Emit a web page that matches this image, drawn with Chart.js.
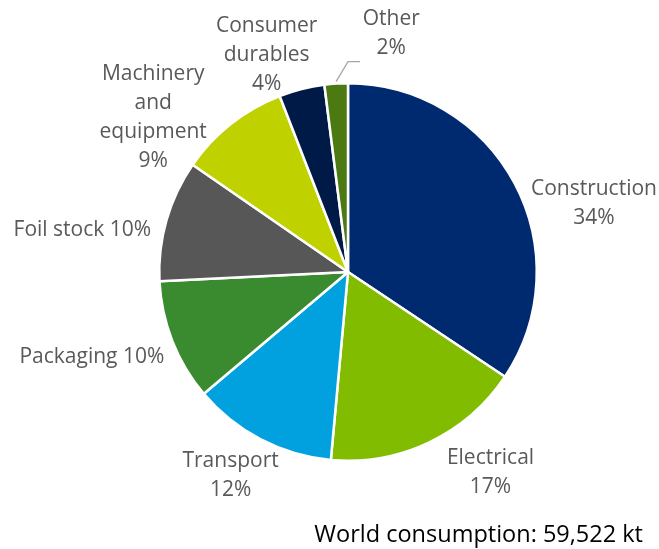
<!DOCTYPE html>
<html>
<head>
<meta charset="utf-8">
<script src="https://cdn.jsdelivr.net/npm/chart.js@4"></script>
<style>
  html, body { margin: 0; padding: 0; background: #fff; }
  #wrap { width: 659px; height: 549px; position: relative; }
</style>
</head>
<body>
<div id="wrap"><canvas id="pieChart" width="659" height="549"></canvas></div>
<script>
// segments, clockwise from 12 o'clock
const sectors = ["Construction", "Electrical", "Transport", "Packaging", "Foil stock", "Machinery and equipment", "Consumer durables", "Other"];
const shares = [34.4, 17.1, 12.4, 10.4, 10.4, 9.5, 3.9, 2.0];
const shareLabels = ["34%", "17%", "12%", "10%", "10%", "9%", "4%", "2%"];
const labelLines = [
  ["Construction", "34%"],
  ["Electrical", "17%"],
  ["Transport", "12%"],
  ["Packaging 10%"],
  ["Foil stock 10%"],
  ["Machinery", "and", "equipment", "9%"],
  ["Consumer", "durables", "4%"],
  ["Other", "2%"],
];
const colors = ["#002A6F", "#82BC00", "#00A1DE", "#3A8A2F", "#575757", "#BFD200", "#001A47", "#4C7A12"];
const footnote = "World consumption: 59,522 kt";

// label anchor relative to pie centre, in units of radius
const labelPlace = [
  { dx: 1.303, dy: -0.362, align: "center" },
  { dx: 0.755, dy: 1.063, align: "center" },
  { dx: -0.622, dy: 1.079, align: "center" },
  { dx: -0.973, dy: 0.451, align: "right" },
  { dx: -1.043, dy: -0.224, align: "right" },
  { dx: -1.032, dy: -0.820, align: "center" },
  { dx: -0.431, dy: -1.150, align: "center" },
  { dx: 0.229, dy: -1.261, align: "center" },
];

const FONT = '"Open Sans", "Noto Sans", sans-serif';

const pieLabels = {
  id: "pieLabels",
  afterDatasetsDraw(chart) {
    const ctx = chart.ctx;
    const arcs = chart.getDatasetMeta(0).data;
    if (!arcs.length) return;
    const cx = arcs[0].x, cy = arcs[0].y, r = arcs[0].outerRadius;
    ctx.save();
    ctx.font = "21px " + FONT;
    ctx.fillStyle = "#595959";
    ctx.textBaseline = "middle";
    const lh = 29;
    labelLines.forEach((lines, i) => {
      const p = labelPlace[i];
      const x = cx + p.dx * r;
      const y0 = cy + p.dy * r - (lines.length - 1) * lh / 2;
      ctx.textAlign = p.align;
      lines.forEach((t, k) => ctx.fillText(t, x, y0 + k * lh));
    });

    // leader line for the small "Other" slice
    const other = arcs[7];
    const mid = (other.startAngle + other.endAngle) / 2;
    const sx = cx + Math.cos(mid) * (r + 2), sy = cy + Math.sin(mid) * (r + 2);
    ctx.strokeStyle = "#A6A6A6";
    ctx.lineWidth = 1.3;
    ctx.beginPath();
    ctx.moveTo(sx, sy);
    ctx.lineTo(sx + 12, sy - 20);
    ctx.lineTo(sx + 24, sy - 20);
    ctx.stroke();

    ctx.font = "23.5px " + FONT;
    ctx.fillStyle = "#000";
    ctx.textAlign = "right";
    ctx.textBaseline = "alphabetic";
    ctx.fillText(footnote, chart.width - 16, 542);
    ctx.restore();
  },
};

new Chart(document.getElementById("pieChart"), {
  type: "pie",
  data: {
    labels: sectors,
    datasets: [{
      data: shares,
      backgroundColor: colors,
      borderColor: "#ffffff",
      borderWidth: 2.5,
    }],
  },
  options: {
    responsive: false,
    animation: false,
    layout: { padding: { left: 158, right: 121, top: 82, bottom: 87 } },
    plugins: { legend: { display: false }, tooltip: { enabled: false } },
  },
  plugins: [pieLabels],
});
</script>
</body>
</html>
